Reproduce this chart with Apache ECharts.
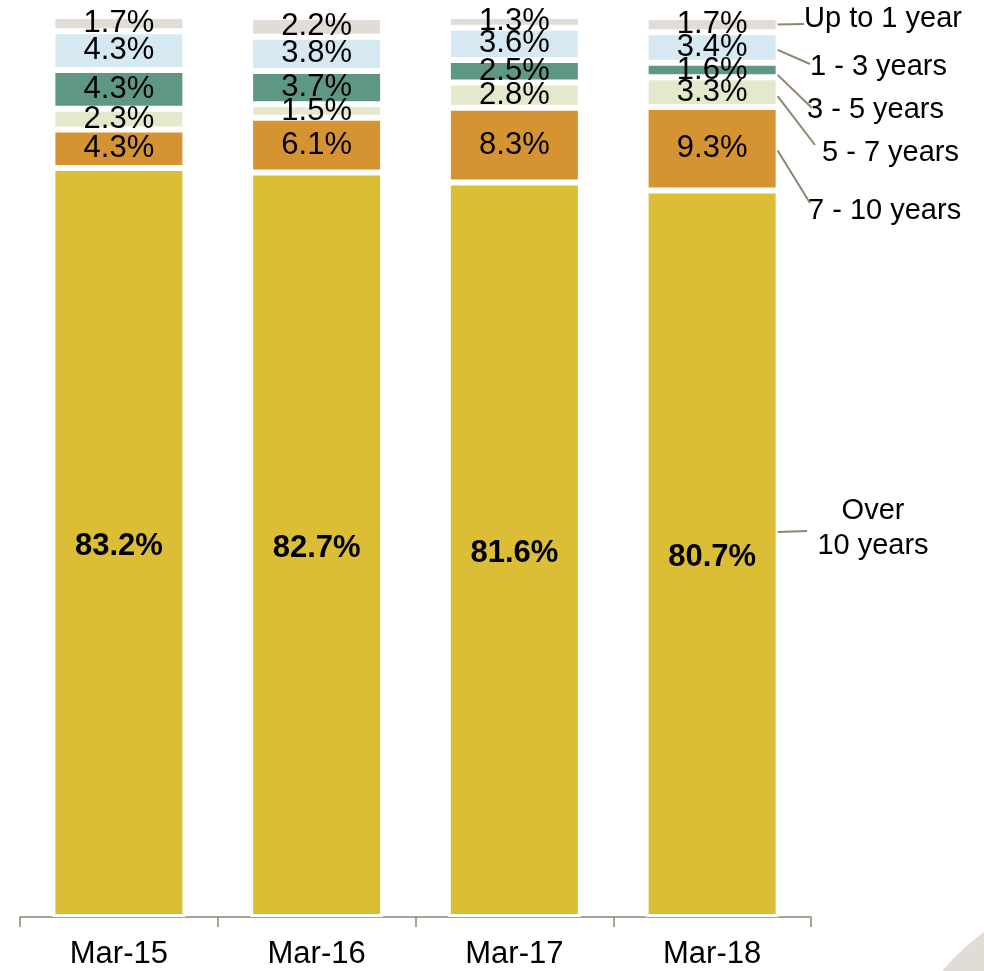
<!DOCTYPE html>
<html>
<head>
<meta charset="utf-8">
<script src="https://cdn.jsdelivr.net/npm/echarts@6/dist/echarts.min.js"></script>
<style>
  html, body { margin: 0; padding: 0; background: #fff; }
  #chart { width: 984px; height: 971px; }
</style>
</head>
<body>
<div id="chart"></div>
<script>
// Maturity profile by period, in percent of total
const categories = ['Mar-15', 'Mar-16', 'Mar-17', 'Mar-18'];
const over10 = [83.2, 82.7, 81.6, 80.7];
const y7to10 = [4.3, 6.1, 8.3, 9.3];
const y5to7 = [2.3, 1.5, 2.8, 3.3];
const y3to5 = [4.3, 3.7, 2.5, 1.6];
const y1to3 = [4.3, 3.8, 3.6, 3.4];
const upTo1 = [1.7, 2.2, 1.3, 1.7];

const seriesNames = ['Over\n10 years', '7 - 10 years', '5 - 7 years', '3 - 5 years', '1 - 3 years', 'Up to 1 year'];
const seriesData = [over10, y7to10, y5to7, y3to5, y1to3, upTo1];
const seriesColors = ['#DBBE36', '#D69332', '#E4E9CB', '#5E9882', '#D6E8F2', '#E1DDD6'];

// Callout layout for the right-hand series labels (anchored on the last column)
// frac: where along the segment (from its top) the leader line starts
const callouts = [
  { frac: 0.47, end: [807, 531], text: [873, 528], align: 'center' },
  { frac: 0.52, end: [810, 203], text: [808, 211], align: 'left' },
  { frac: 0.64, end: [815, 145], text: [822, 153], align: 'left' },
  { frac: 0.84, end: [812, 108], text: [807, 110], align: 'left' },
  { frac: 0.58, end: [810, 64], text: [810, 67], align: 'left' },
  { frac: 0.50, end: [804, 24], text: [804, 19], align: 'left' }
];

const FONT = '"Liberation Sans", Arial, sans-serif';
const BAR_WIDTH = 133;
const chart = echarts.init(document.getElementById('chart'), null, { renderer: 'canvas' });

const series = seriesData.map((data, i) => ({
  name: seriesNames[i],
  type: 'bar',
  stack: 'total',
  data: data,
  barWidth: BAR_WIDTH,
  itemStyle: { color: seriesColors[i], borderColor: '#fff', borderWidth: 3 },
  label: {
    show: true,
    position: 'inside',
    formatter: '{c}%',
    color: '#000',
    fontFamily: FONT,
    fontSize: 31,
    fontWeight: i === 0 ? 'bold' : 'normal',
    offset: i === 0 ? [0, 4] : [0, 0]
  },
  emphasis: { disabled: true }
}));

chart.setOption({
  animation: false,
  backgroundColor: '#fff',
  grid: { left: 20, right: 173, top: 16, bottom: 54, containLabel: false },
  xAxis: {
    type: 'category',
    data: categories,
    boundaryGap: true,
    axisLine: { show: true, lineStyle: { color: '#8F8470', width: 1.5 } },
    axisTick: { show: true, length: 10, lineStyle: { color: '#8F8470', width: 1.5 } },
    axisLabel: { color: '#000', fontFamily: FONT, fontSize: 31, margin: 22 }
  },
  yAxis: {
    type: 'value',
    min: 0,
    max: 100.1,
    show: false,
    splitLine: { show: false }
  },
  series: series
});

const graphics = [];

// Leader lines and series labels, positioned from the last column's segments
const last = categories.length - 1;
let base = 0;
seriesData.forEach((data, i) => {
  const v = data[last];
  const top = base + v;
  const anchorVal = top - v * callouts[i].frac;
  const p = chart.convertToPixel({ seriesIndex: i }, [last, anchorVal]);
  const x0 = p[0] + BAR_WIDTH / 2 - 1;
  const c = callouts[i];
  graphics.push({
    type: 'line',
    shape: { x1: x0, y1: p[1], x2: c.end[0], y2: c.end[1] },
    style: { stroke: '#8F8470', lineWidth: 2 },
    z: 10
  });
  graphics.push({
    type: 'text',
    x: c.text[0],
    y: c.text[1],
    style: {
      text: seriesNames[i],
      fill: '#000',
      font: '29px ' + FONT,
      align: c.align,
      verticalAlign: 'middle',
      lineHeight: 35
    },
    z: 10
  });
  base = top;
});

// Decorative corner swatch
graphics.push({
  type: 'circle',
  shape: { cx: 1120, cy: 1120, r: 232 },
  style: { fill: '#E1DDD6' },
  z: -1
});

chart.setOption({ graphic: graphics });
</script>
</body>
</html>
